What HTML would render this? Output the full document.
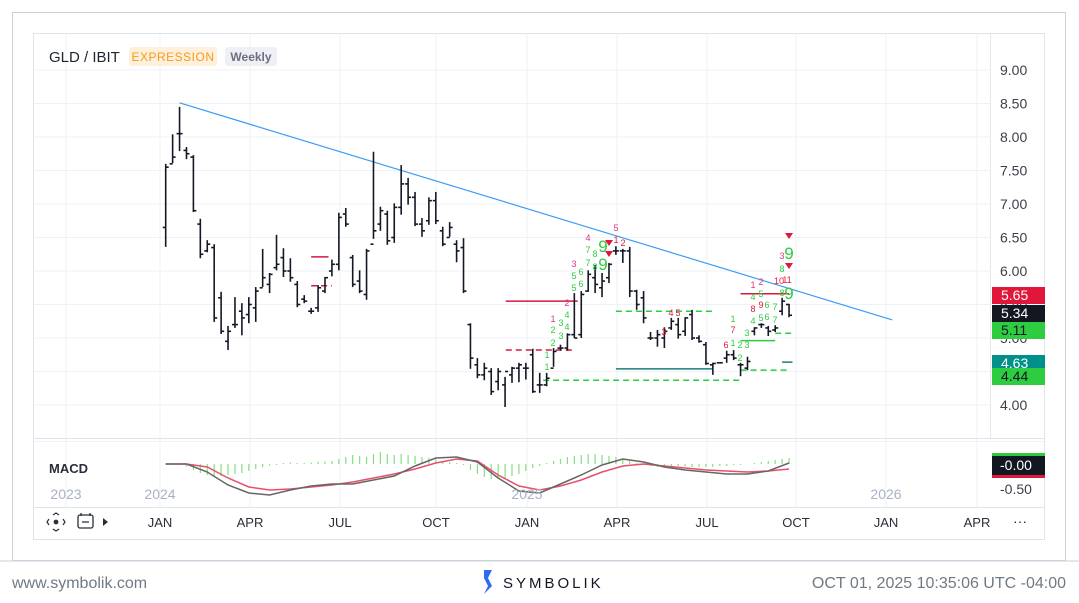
<!DOCTYPE html>
<html><head><meta charset="utf-8"><style>
body{margin:0;background:#fff;font-family:"Liberation Sans",sans-serif;}
#wrap{position:relative;width:1079px;height:603px;overflow:hidden;background:#fff}
</style></head><body><div id="wrap">
<svg id="svg" width="1079" height="603" style="position:absolute;left:0;top:0"></svg>
</div>
<script>
// ---- data ----
const highs=[7.60,8.04,8.45,7.85,7.73,6.78,6.46,6.40,5.69,5.18,5.61,5.52,5.61,5.76,6.33,5.97,6.54,6.34,6.19,5.85,5.64,5.45,5.79,5.91,6.17,6.87,6.94,6.24,6.01,6.33,7.78,6.96,6.90,7.01,7.58,7.39,7.18,6.79,7.10,7.18,6.66,6.73,6.46,6.49,5.22,4.70,4.63,4.55,4.55,4.42,4.57,4.63,4.63,4.84,4.48,4.48,4.85,4.90,5.07,5.67,5.70,6.01,6.09,5.97,6.12,6.37,6.33,6.36,5.72,5.70,5.09,5.12,5.16,5.30,5.30,5.31,5.42,5.04,4.94,4.63,4.64,4.81,4.82,4.63,4.72,5.16,5.22,5.18,5.19,5.60,5.51];
const lows=[6.36,7.61,7.79,7.67,6.88,6.19,6.28,5.24,5.06,4.82,5.15,5.04,5.22,5.24,5.76,5.67,6.01,5.91,5.84,5.46,5.52,5.36,5.39,5.67,5.92,6.01,6.66,5.76,5.67,5.57,6.48,6.60,6.39,6.42,6.84,6.99,6.67,6.51,6.69,6.70,6.37,6.51,6.13,5.67,4.54,4.40,4.37,4.15,4.22,3.97,4.33,4.34,4.38,4.18,4.18,4.28,4.57,4.81,4.81,5.00,5.00,5.69,5.67,5.61,5.82,6.24,6.12,5.61,5.42,5.22,4.97,4.87,4.85,5.12,4.99,5.03,4.97,4.93,4.60,4.45,4.63,4.63,4.67,4.43,4.52,5.04,5.15,5.03,5.09,5.34,5.31];
const opens=[6.65,7.60,8.05,7.80,7.70,6.70,6.30,6.35,5.60,4.95,5.20,5.40,5.35,5.45,5.75,5.80,6.05,6.20,6.00,5.80,5.58,5.40,5.45,5.70,6.00,6.10,6.85,6.20,5.85,5.65,6.40,6.70,6.85,6.50,6.95,7.30,7.10,6.70,6.75,7.05,6.60,6.50,6.40,6.35,5.20,4.60,4.45,4.50,4.35,4.30,4.45,4.55,4.55,4.75,4.30,4.30,4.55,4.85,4.85,5.05,5.05,5.70,5.90,5.75,5.90,6.30,6.30,6.30,5.70,5.60,5.00,5.00,5.00,5.15,5.20,5.10,5.35,5.00,4.90,4.60,4.63,4.70,4.75,4.60,4.55,5.10,5.20,5.15,5.12,5.40,5.50];
const closes=[7.55,7.70,8.05,7.75,6.90,6.25,6.40,5.30,5.10,5.10,5.20,5.30,5.50,5.70,5.90,5.95,6.10,6.00,5.90,5.50,5.55,5.40,5.75,5.90,6.10,6.80,6.70,5.80,5.70,6.30,6.60,6.90,6.45,6.95,7.30,7.10,6.70,6.60,7.05,6.75,6.40,6.65,6.30,5.70,4.70,4.45,4.55,4.20,4.50,4.50,4.55,4.60,4.55,4.20,4.30,4.40,4.80,4.85,5.05,5.00,5.65,5.95,5.80,5.85,6.10,6.30,6.30,5.70,5.50,5.30,5.00,5.05,5.10,5.25,5.05,5.30,5.00,4.95,4.62,4.62,4.63,4.75,4.70,4.60,4.65,5.15,5.20,5.10,5.15,5.55,5.34];
const macdIdx=[0,3,6,9,12,15,18,21,24,27,30,33,36,39,42,45,48,51,54,57,60,63,66,69,72,75,78,81,84,87,90];
const macdVals=[0,0,-0.16,-0.42,-0.58,-0.62,-0.52,-0.44,-0.40,-0.40,-0.32,-0.24,-0.04,0.12,0.14,0.04,-0.28,-0.54,-0.58,-0.40,-0.22,-0.02,0.10,0.04,-0.06,-0.12,-0.16,-0.20,-0.20,-0.14,0.02];
const signalVals=[0,0,-0.06,-0.28,-0.46,-0.52,-0.50,-0.46,-0.42,-0.36,-0.28,-0.20,-0.10,0.02,0.10,0.06,-0.22,-0.44,-0.52,-0.44,-0.32,-0.16,-0.04,0,-0.04,-0.08,-0.12,-0.14,-0.16,-0.14,-0.10];
const histVals=[0,0,0,-0.05,-0.12,-0.18,-0.22,-0.24,-0.24,-0.22,-0.2,-0.18,-0.14,-0.1,-0.06,-0.03,-0.02,0.02,0.03,0.02,0.02,0.03,0.04,0.05,0.06,0.1,0.14,0.18,0.16,0.14,0.2,0.24,0.2,0.18,0.2,0.18,0.16,0.14,0.12,0.1,0.06,0.04,0.02,-0.02,-0.12,-0.2,-0.26,-0.3,-0.3,-0.28,-0.24,-0.2,-0.14,-0.08,-0.04,0.02,0.06,0.1,0.14,0.16,0.18,0.2,0.2,0.18,0.16,0.14,0.1,0.06,0.02,-0.02,-0.04,-0.06,-0.06,-0.06,-0.04,-0.04,-0.06,-0.06,-0.06,-0.06,-0.04,-0.04,-0.02,-0.02,0,0.02,0.04,0.06,0.08,0.1,0.12];
const priceTicks=[9.00,8.50,8.00,7.50,7.00,6.50,6.00,5.50,5.00,4.50,4.00];
const monthLabels=["JAN","APR","JUL","OCT","JAN","APR","JUL","OCT","JAN","APR"];
const monthX=[160,250,340,436,527,617,707,796,886,977];
const trendStart=[2,8.51], trendEnd=[104.9,5.27];
const levels=[[49.1,59.5,5.55,"#d6183d",0],[49.1,58.8,4.82,"#d6183d",1],[54.5,83.2,4.37,"#2ecc40",1],[65,78.9,5.40,"#2ecc40",1],[65,78.9,4.54,"#1a7f7a",0],[83,90,4.52,"#2ecc40",1],[83,88,4.96,"#2ecc40",0],[83,90,5.66,"#d6183d",0],[88,90.5,5.07,"#2ecc40",1],[89,90.5,4.64,"#1a7f7a",0],[21,23.5,6.21,"#d6183d",0],[21,24,5.78,"#d6183d",1]];
// ---- scales ----
const X=i=>165.7+i*6.926;
const Y=p=>70+(9-p)*67;
const MY=v=>464-v*50;
const svg=document.getElementById('svg');
const NS="http://www.w3.org/2000/svg";
function mk(tag,attrs,parent){const e=document.createElementNS(NS,tag);for(const k in attrs)e.setAttribute(k,attrs[k]);(parent||svg).appendChild(e);return e;}
let e;
e=mk('rect',{x:12.5,y:12.5,width:1053,height:548,fill:'#fff',stroke:'#c9d1d9'});

e=mk('rect',{x:33.5,y:33.5,width:1011,height:506,fill:'none',stroke:'#dfe3ea'});

const grid=mk('g',{});
priceTicks.forEach(p=>{mk('line',{x1:34,x2:990,y1:Y(p),y2:Y(p),stroke:'#eef1f5'},grid);});
monthX.forEach(x=>{mk('line',{x1:x,x2:x,y1:34,y2:507,stroke:'#eef1f5'},grid);});
mk('line',{x1:66,x2:66,y1:34,y2:507,stroke:'#eef1f5'},grid);
mk('line',{x1:990.5,x2:990.5,y1:34,y2:438,stroke:'#e3e7ee'});
mk('line',{x1:34,x2:1044,y1:438.5,y2:438.5,stroke:'#dfe3ea'});
mk('line',{x1:34,x2:1044,y1:441.5,y2:441.5,stroke:'#eef1f5'});
mk('line',{x1:34,x2:1044,y1:507.5,y2:507.5,stroke:'#dfe3ea'});
priceTicks.forEach(p=>{const t=mk('text',{x:1000,y:Y(p)+5,'font-size':14,fill:'#3a3f4a'});t.textContent=p.toFixed(2);
});
levels.forEach(l=>{const ln=mk('line',{x1:X(l[0]),x2:X(l[1]),y1:Y(l[2]),y2:Y(l[2]),stroke:l[3],'stroke-width':1.5,'stroke-dasharray':l[4]?'6,4':''});
});
e=mk('line',{x1:X(trendStart[0]),y1:Y(trendStart[1]),x2:X(trendEnd[0]),y2:Y(trendEnd[1]),stroke:'#3d9df3','stroke-width':1.2});

const bg=mk('g',{stroke:'#141824','stroke-width':1.6});
highs.forEach((h,i)=>{const x=X(i);const g=mk('g',{},bg);

mk('line',{x1:x,x2:x,y1:Y(h),y2:Y(lows[i])},g);
mk('line',{x1:x-3,x2:x,y1:Y(opens[i]),y2:Y(opens[i])},g);
mk('line',{x1:x,x2:x+3,y1:Y(closes[i]),y2:Y(closes[i])},g);});
const G="#2ecc40",M="#e0338a",R="#e0173a";
const ann=[[553,318,"1",M],[553,329,"2",G],[561,322,"3",G],[567,314,"4",G],[553,342,"2",G],[561,335,"3",G],[567,326,"4",G],[547,354,"1",G],[547,366,"1",G],[567,302,"2",M],[574,287,"5",G],[581,283,"6",G],[574,275,"5",G],[581,271,"6",G],[574,263,"3",M],[588,249,"7",G],[595,253,"8",G],[588,262,"7",G],[595,266,"8",G],[588,237,"4",M],[616,227,"5",M],[616,239,"1",R],[623,242,"2",R],[664,331,"3",R],[671,312,"4",R],[678,312,"5",R],[733,318,"1",G],[733,329,"7",R],[726,344,"6",R],[733,342,"1",G],[740,344,"2",G],[747,344,"3",G],[740,357,"2",G],[747,332,"3",G],[753,320,"4",G],[761,317,"5",G],[767,316,"6",G],[775,319,"7",G],[753,308,"8",R],[761,304,"9",R],[767,304,"6",G],[775,306,"7",G],[753,296,"4",G],[761,293,"5",G],[753,284,"1",M],[761,281,"2",M],[779,280,"10",R],[787,279,"11",R],[782,292,"8",G],[782,268,"8",G],[782,255,"3",M]];
ann.forEach(a=>{const t=mk('text',{x:a[0],y:a[1]+4,'font-size':9,fill:a[3],'text-anchor':'middle'});t.textContent=a[2];
});
[[603,245],[603,263],[789,292],[789,252]].forEach(a=>{const t=mk('text',{x:a[0],y:a[1]+7,'font-size':17,fill:G,'text-anchor':'middle'});t.textContent="9";
});
[[609,243],[609,254],[789,266],[789,236]].forEach(a=>{const p=mk('path',{d:`M${a[0]-4},${a[1]-3}L${a[0]+4},${a[1]-3}L${a[0]},${a[1]+3}Z`,fill:R});
});
[[5.65,"#e0173a","#fff",287],[5.34,"#131722","#fff",305],[5.11,"#2ecc40","#131722",322],[4.63,"#00908a","#fff",355],[4.44,"#2ecc40","#131722",368]].forEach(b=>{
const g=mk('g',{});
mk('rect',{x:992,y:b[3],width:53,height:17,fill:b[1]},g);
const t=mk('text',{x:1001,y:b[3]+13,'font-size':14,fill:b[2]},g);t.textContent=b[0].toFixed(2);});
const mg=mk('g',{});
histVals.forEach((d,i)=>{const hb=mk('line',{x1:X(i),x2:X(i),y1:MY(0),y2:MY(d),stroke:'#86de80','stroke-width':1.2},mg);
});
e=mk('polyline',{points:macdIdx.map((i,k)=>X(i)+","+MY(signalVals[k])).join(" "),fill:'none',stroke:'#e8506a','stroke-width':1.5},mg);

e=mk('polyline',{points:macdIdx.map((i,k)=>X(i)+","+MY(macdVals[k])).join(" "),fill:'none',stroke:'#666','stroke-width':1.5},mg);

const mb=mk('g',{});
mk('rect',{x:992,y:453,width:53,height:25,fill:'#131722'},mb);
mk('rect',{x:992,y:453,width:53,height:3,fill:'#2ecc40'},mb);
mk('rect',{x:992,y:475,width:53,height:3,fill:'#e0173a'},mb);
e=mk('text',{x:1000,y:470,'font-size':14,fill:'#fff'},mb);e.textContent="-0.00";
e=mk('text',{x:1000,y:494,'font-size':14,fill:'#3a3f4a'});e.textContent="-0.50";
e=mk('text',{x:49,y:473,'font-size':13,fill:'#2a2e39','font-weight':'bold'});e.textContent="MACD";
[["2023",66],["2024",160],["2025",527],["2026",886]].forEach(y=>{const t=mk('text',{x:y[1],y:499,'font-size':14,fill:'#a9b1c6','text-anchor':'middle'});t.textContent=y[0];
});
monthLabels.forEach((m,i)=>{const t=mk('text',{x:monthX[i],y:527,'font-size':13,fill:'#2a2e39','text-anchor':'middle'});t.textContent=m;
});
e=mk('g',{stroke:'#2a2e39',fill:'none','stroke-width':1.2});
mk('circle',{cx:56,cy:522,r:1.8,fill:'#2a2e39'},e);mk('path',{d:'M49,519l-2,3l2,3M63,519l2,3l-2,3M53,515l3,-2l3,2M53,529l3,2l3,-2'},e);
e=mk('g',{stroke:'#2a2e39',fill:'none','stroke-width':1.3});
mk('rect',{x:78,y:515,width:15,height:13,rx:2},e);mk('path',{d:'M81,513v3M90,513v3M82,522h7'},e);
e=mk('path',{d:'M103,518l5,4l-5,4z',fill:'#2a2e39'});
e=mk('text',{x:1020,y:526,'font-size':14,fill:'#2a2e39','text-anchor':'middle'});e.textContent="···";
e=mk('line',{x1:0,x2:1079,y1:561,y2:561,stroke:'#c9d1d9'});
e=mk('text',{x:12,y:588,'font-size':16,fill:'#6f7a85'});e.textContent="www.symbolik.com";
e=mk('g',{});
mk('path',{d:'M484,570l8,0l-4,8l4,8l-8,8l4,-8l-4,-8z',fill:'#2f6bf0'},e);
let t=mk('text',{x:503,y:588,'font-size':15,fill:'#131722','letter-spacing':3},e);t.textContent="SYMBOLIK";
e=mk('text',{x:1066,y:588,'font-size':16,fill:'#6f7a85','text-anchor':'end'});e.textContent="OCT 01, 2025 10:35:06 UTC -04:00";
e=mk('text',{x:49,y:62,'font-size':15,fill:'#1f2430'});e.textContent="GLD / IBIT";
e=mk('g',{});
mk('rect',{x:129,y:47,width:88,height:19,rx:3,fill:'#fff0dc'},e);
t=mk('text',{x:173,y:61,'font-size':12,fill:'#f59a1b','text-anchor':'middle','letter-spacing':0.5},e);t.textContent="EXPRESSION";
e=mk('g',{});
mk('rect',{x:225,y:47,width:52,height:19,rx:3,fill:'#eef0f5'},e);
t=mk('text',{x:251,y:61,'font-size':12,fill:'#6b7180','text-anchor':'middle','font-weight':'bold'},e);t.textContent="Weekly";
</script></body></html>
